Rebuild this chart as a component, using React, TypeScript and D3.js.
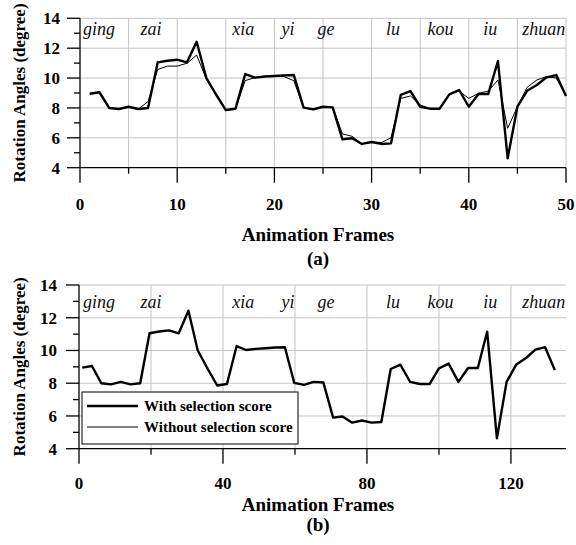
import React from "react";
import * as d3 from "d3";

// ---------- data ----------
const framesTop = [1,2,3,4,5,6,7,8,9,10,11,12,13,14,15,16,17,18,19,20,21,22,23,24,25,26,27,28,29,30,31,32,33,34,35,36,37,38,39,40,41,42,43,44,45,46,47,48,49,50];
const framesBottom = [0.9,3.6,6.2,8.9,11.6,14.3,17.0,19.6,22.3,25.0,27.7,30.4,33.0,35.7,38.4,41.1,43.8,46.4,49.1,51.8,54.5,57.2,59.8,62.5,65.2,67.9,70.6,73.2,75.9,78.6,81.3,84.0,86.6,89.3,92.0,94.7,97.4,100.0,102.7,105.4,108.1,110.8,113.4,116.1,118.8,121.5,124.2,126.8,129.5,132.2];
const withScore = [8.95,9.05,8.0,7.93,8.08,7.93,8.0,11.05,11.16,11.23,11.05,12.43,10.0,8.9,7.86,7.95,10.27,10.03,10.1,10.14,10.18,10.2,8.02,7.9,8.08,8.04,5.9,5.97,5.59,5.72,5.59,5.63,8.87,9.13,8.08,7.95,7.95,8.91,9.2,8.08,8.93,8.93,11.14,4.63,8.08,9.15,9.54,10.05,10.2,8.8];
const withoutScore = [8.95,9.05,8.0,7.93,8.08,7.93,8.42,10.58,10.8,10.8,10.99,11.54,9.92,8.9,7.86,7.95,9.83,10.03,10.1,10.12,10.1,9.82,8.02,7.9,8.08,8.04,6.26,6.1,5.59,5.72,5.68,6.01,8.64,8.8,8.2,7.95,7.95,8.91,9.13,8.64,8.98,9.13,9.87,6.64,8.08,9.38,9.87,10.1,10.0,8.8];
const wordLabels = ["ging","zai","xia","yi","ge","lu","kou","iu","zhuan"];
const wordPositions = [1.95,7.3,16.8,21.4,25.3,32.2,37.1,42.2,47.7]; // in top-chart frame units
const yMajorTicks = [4,6,8,10,12,14];
const yMinorTicks = [5,7,9,11,13];
const topXMajor = [0,10,20,30,40,50];
const topXMinor = [5,15,25,35,45];
const topXGrid = [5,10,15,20,25,30,35,40,45,50];
const botXMajor = [0,40,80,120];
const botXMinor = [20,60,100];
const botXGrid = [20,40,60,80,100,120];
const yGrid = [6,8,10,12,14];
const legendLabels = ["With selection score","Without selection score"];

const FONT = "'Liberation Serif', 'Times New Roman', serif";
const GRID = "#c4c4c4";

type PanelProps = {
  x: d3.ScaleLinear<number, number>;
  y: d3.ScaleLinear<number, number>;
  xMajor: number[]; xMinor: number[]; xGrid: number[];
  series: { xs: number[]; ys: number[]; width: number }[];
  labelRight: number;
  tickLabelY: number;
  titleY: number; subY: number; sub: string;
  wordY: number;
  wordScale: d3.ScaleLinear<number, number>;
};

function Panel(p: PanelProps) {
  const { x, y } = p;
  const [x0, x1] = x.range();
  const yTop = y(14), yBot = y(4);
  const line = d3.line<[number, number]>().x(d => x(d[0])).y(d => y(d[1]));
  const cy = (yTop + yBot) / 2;
  return (
    <g fontFamily={FONT}>
      {/* grid */}
      {p.xGrid.map(v => (
        <line key={"gx" + v} x1={x(v)} x2={x(v)} y1={yTop} y2={yBot} stroke={GRID} strokeWidth={1} />
      ))}
      {yGrid.map(v => (
        <line key={"gy" + v} x1={x0} x2={x1} y1={y(v)} y2={y(v)} stroke={GRID} strokeWidth={1} />
      ))}
      {/* words */}
      {wordLabels.map((w, i) => (
        <text key={w} x={p.wordScale(wordPositions[i])} y={p.wordY} textAnchor="middle" fontStyle="italic" fontSize={18} fill="#111">{w}</text>
      ))}
      {/* series */}
      {p.series.map((s, i) => (
        <path key={i} d={line(s.xs.map((v, j) => [v, s.ys[j]] as [number, number])) || ""} fill="none" stroke="#000" strokeWidth={s.width} strokeLinejoin="round" />
      ))}
      {/* axes */}
      <line x1={x0} x2={x0} y1={yTop} y2={yBot} stroke="#000" strokeWidth={1.3} />
      <line x1={x0} x2={x1} y1={yBot} y2={yBot} stroke="#000" strokeWidth={1.3} />
      {yMajorTicks.map(v => (
        <g key={"ym" + v}>
          <line x1={x0 - 13} x2={x0} y1={y(v)} y2={y(v)} stroke="#000" strokeWidth={1.3} />
          <text x={p.labelRight} y={y(v) + 6} textAnchor="end" fontWeight="bold" fontSize={17}>{v}</text>
        </g>
      ))}
      {yMinorTicks.map(v => (
        <line key={"yn" + v} x1={x0 - 6} x2={x0} y1={y(v)} y2={y(v)} stroke="#000" strokeWidth={1.3} />
      ))}
      {p.xMajor.map(v => (
        <g key={"xm" + v}>
          <line x1={x(v)} x2={x(v)} y1={yBot} y2={yBot + 15} stroke="#000" strokeWidth={1.3} />
          <text x={x(v)} y={p.tickLabelY} textAnchor="middle" fontWeight="bold" fontSize={17}>{v}</text>
        </g>
      ))}
      {p.xMinor.map(v => (
        <line key={"xn" + v} x1={x(v)} x2={x(v)} y1={yBot} y2={yBot + 6} stroke="#000" strokeWidth={1.3} />
      ))}
      {/* titles */}
      <text transform={`translate(25,${cy}) rotate(-90)`} textAnchor="middle" fontWeight="bold" fontSize={17}>Rotation Angles (degree)</text>
      <text x={318} y={p.titleY} textAnchor="middle" fontWeight="bold" fontSize={19}>Animation Frames</text>
      <text x={318} y={p.subY} textAnchor="middle" fontWeight="bold" fontSize={19}>{p.sub}</text>
    </g>
  );
}

export default function App() {
  const xTop = d3.scaleLinear().domain([0, 50]).range([80, 566]);
  const yTop = d3.scaleLinear().domain([4, 14]).range([167.7, 18.3]);
  const xBot = d3.scaleLinear().domain([0, 135.3]).range([79, 566]);
  const yBot = d3.scaleLinear().domain([4, 14]).range([448.7, 285]);

  return (
    <svg width={576} height={545} style={{ position: "absolute", left: 0, top: 0, background: "#fff" }}>
      <rect width={576} height={545} fill="#fff" />
      <Panel
        x={xTop} y={yTop}
        xMajor={topXMajor} xMinor={topXMinor} xGrid={topXGrid}
        series={[
          { xs: framesTop, ys: withoutScore, width: 1 },
          { xs: framesTop, ys: withScore, width: 2.4 },
        ]}
        labelRight={60} tickLabelY={210} titleY={241} subY={265} sub="(a)"
        wordY={35} wordScale={xTop}
      />
      <Panel
        x={xBot} y={yBot}
        xMajor={botXMajor} xMinor={botXMinor} xGrid={botXGrid}
        series={[{ xs: framesBottom, ys: withScore, width: 2.4 }]}
        labelRight={57} tickLabelY={489} titleY={511} subY={531} sub="(b)"
        wordY={308} wordScale={xTop}
      />
      {/* legend */}
      <g fontFamily={FONT}>
        <rect x={82} y={392} width={216} height={52} fill="#fff" stroke="#000" strokeWidth={1} />
        <line x1={87} x2={138} y1={406} y2={406} stroke="#000" strokeWidth={2.4} />
        <line x1={87} x2={138} y1={427} y2={427} stroke="#000" strokeWidth={1} />
        <text x={144} y={411} fontWeight="bold" fontSize={15}>{legendLabels[0]}</text>
        <text x={144} y={432} fontWeight="bold" fontSize={15}>{legendLabels[1]}</text>
      </g>
    </svg>
  );
}
